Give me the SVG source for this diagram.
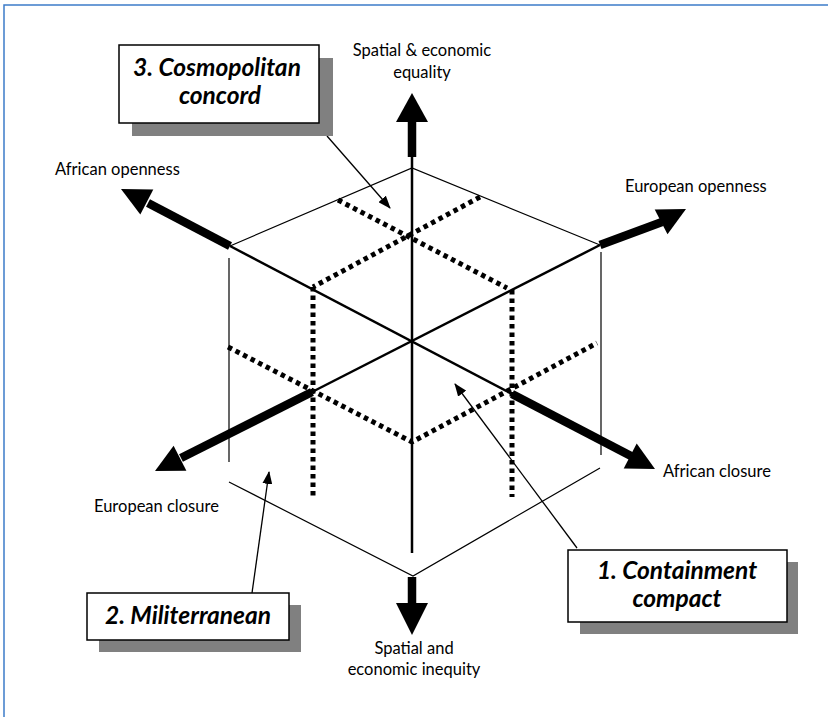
<svg xmlns="http://www.w3.org/2000/svg" width="828" height="717" viewBox="0 0 828 717">
<style>
  .lbl { font-family: Lato, "Liberation Sans", sans-serif; font-size: 16.5px; fill: #000; }
  .ttl { font-family: Lato, "Liberation Sans", sans-serif; font-size: 24.5px; font-weight: bold; font-style: italic; fill: #000; }
  .box { fill: #fff; stroke: #000; stroke-width: 1.5; }
  .shadow { fill: #808080; }
  .thin { stroke: #000; stroke-width: 1.2; fill: none; }
  .axis { stroke: #000; stroke-width: 2.5; fill: none; }
  .shaft { stroke: #000; stroke-width: 8.5; fill: none; }
  .head { fill: #000; }
  .dot { stroke: #000; stroke-width: 5; stroke-dasharray: 4.5 4; fill: none; }
  .ptr { stroke: #000; stroke-width: 1.3; fill: none; marker-end: url(#ah); }
</style>
<defs>
  <marker id="ah" markerUnits="userSpaceOnUse" markerWidth="13" markerHeight="10" refX="12" refY="5" orient="auto">
    <path d="M0,0 L13,5 L0,10 Z" fill="#000"/>
  </marker>
</defs>
<rect width="828" height="717" fill="#fff"/>
<path d="M4,717 V5 H828" fill="none" stroke="#3d7cc9" stroke-width="1.5"/>

<g id="cube">
  <path class="thin" d="M230,246 L412,168 L600,245"/>
  <path class="thin" d="M229,258 V462"/>
  <path class="thin" d="M601,252 V455"/>
  <path class="thin" d="M229,482 L413,576 L600,468"/>
  <path class="dot" d="M338,200 L507,288"/>
  <path class="dot" d="M480,197 L313,287"/>
  <path class="dot" d="M313,287 V497"/>
  <path class="dot" d="M512,290 V497"/>
  <path class="dot" d="M228,347 L412,442 L597,343"/>
</g>

<g id="axes">
  <path class="axis" d="M412,157 V553"/>
  <path class="axis" d="M230,246 L512,394"/>
  <path class="axis" d="M312,392 L600,245"/>
  <path class="shaft" d="M412,157 V118"/>
  <polygon class="head" points="412,93 428,122 396,122"/>
  <path class="shaft" d="M412,577 V607"/>
  <polygon class="head" points="412,635 396,603 428,603"/>
  <path class="shaft" d="M230,246 L148,203"/>
  <polygon class="head" points="121,189 153.3,189.6 140.3,214.4"/>
  <path class="shaft" d="M600,245 L662,222"/>
  <polygon class="head" points="686,209 654.7,209.5 667.5,234.3"/>
  <path class="shaft" d="M312,392 L181,458"/>
  <polygon class="head" points="155,471 173.6,445.8 186.4,470.8"/>
  <path class="shaft" d="M512,394 L631,456"/>
  <polygon class="head" points="655,469 636.7,443.6 623.7,468.4"/>
</g>

<g id="connectors">
  <path class="ptr" d="M327,136 L390,208"/>
  <path class="ptr" d="M252,593 L269,472"/>
  <path class="ptr" d="M577,548 L455,384"/>
</g>

<g id="box3">
  <rect class="shadow" x="132" y="58" width="201" height="78"/>
  <rect class="box" x="119" y="45" width="200" height="78"/>
  <text class="ttl" x="217" y="76" text-anchor="middle">3. Cosmopolitan</text>
  <text class="ttl" x="220" y="104" text-anchor="middle">concord</text>
</g>
<g id="box2">
  <rect class="shadow" x="99" y="605" width="202" height="47"/>
  <rect class="box" x="87" y="593" width="202" height="47"/>
  <text class="ttl" x="188" y="624" text-anchor="middle">2. Militerranean</text>
</g>
<g id="box1">
  <rect class="shadow" x="580" y="562" width="218" height="72"/>
  <rect class="box" x="568" y="550" width="219" height="72"/>
  <text class="ttl" x="677" y="579" text-anchor="middle">1. Containment</text>
  <text class="ttl" x="677" y="607" text-anchor="middle">compact</text>
</g>

<g id="label-equality">
  <text class="lbl" x="422" y="56" text-anchor="middle">Spatial &amp; economic</text>
  <text class="lbl" x="422" y="78" text-anchor="middle">equality</text>
</g>
<g id="label-african-openness"><text class="lbl" x="55" y="175">African openness</text></g>
<g id="label-european-openness"><text class="lbl" x="625" y="192">European openness</text></g>
<g id="label-african-closure"><text class="lbl" x="663" y="477">African closure</text></g>
<g id="label-european-closure"><text class="lbl" x="94" y="512">European closure</text></g>
<g id="label-inequity">
  <text class="lbl" x="414" y="654" text-anchor="middle">Spatial and</text>
  <text class="lbl" x="414" y="675" text-anchor="middle">economic inequity</text>
</g>
</svg>
